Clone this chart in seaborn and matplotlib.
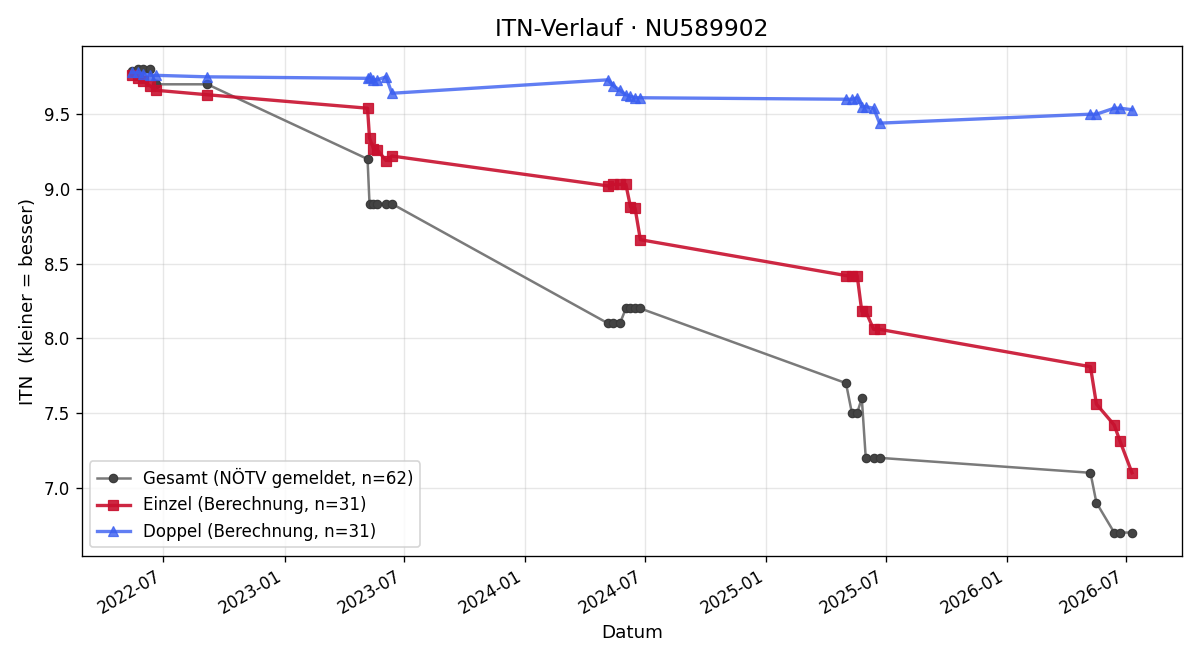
import pandas as pd
import matplotlib
matplotlib.use("Agg")
import matplotlib.pyplot as plt
import matplotlib.dates as mdates
import seaborn as sns

# Spieltermine (gleich für alle drei Reihen)
DATES = [
    "2022-05-14", "2022-05-23", "2022-06-01", "2022-06-11", "2022-06-20", "2022-09-06",
    "2023-05-07", "2023-05-10", "2023-05-16", "2023-05-22", "2023-06-04", "2023-06-13",
    "2024-05-06", "2024-05-14", "2024-05-24", "2024-06-02", "2024-06-09", "2024-06-16", "2024-06-24",
    "2025-05-02", "2025-05-11", "2025-05-19", "2025-05-26", "2025-06-01", "2025-06-13", "2025-06-22",
    "2026-05-08", "2026-05-17", "2026-06-13", "2026-06-22", "2026-07-10",
]

GESAMT = [9.79, 9.80, 9.80, 9.80, 9.70, 9.70,
          9.20, 8.90, 8.90, 8.90, 8.90, 8.90,
          8.10, 8.10, 8.10, 8.20, 8.20, 8.20, 8.20,
          7.70, 7.50, 7.50, 7.60, 7.20, 7.20, 7.20,
          7.10, 6.90, 6.70, 6.70, 6.70]

EINZEL = [9.76, 9.74, 9.72, 9.69, 9.66, 9.63,
          9.54, 9.34, 9.27, 9.26, 9.19, 9.22,
          9.02, 9.03, 9.03, 9.03, 8.88, 8.87, 8.66,
          8.42, 8.42, 8.42, 8.18, 8.18, 8.06, 8.06,
          7.81, 7.56, 7.42, 7.31, 7.10]

DOPPEL = [9.78, 9.78, 9.77, 9.76, 9.76, 9.75,
          9.74, 9.75, 9.73, 9.73, 9.75, 9.64,
          9.73, 9.69, 9.66, 9.63, 9.62, 9.61, 9.61,
          9.60, 9.60, 9.61, 9.55, 9.55, 9.54, 9.44,
          9.50, 9.50, 9.54, 9.54, 9.53]

df = pd.DataFrame({
    "date": pd.to_datetime(DATES),
    "gesamt": GESAMT,
    "einzel": EINZEL,
    "doppel": DOPPEL,
})

fig, ax = plt.subplots(figsize=(10, 5.5), dpi=120)

sns.lineplot(data=df, x="date", y="gesamt", ax=ax, color="#7a7a7a",
             marker="o", markersize=5, linewidth=1.5,
             markerfacecolor="#444444", markeredgecolor="#3a3a3a",
             label="Gesamt (NÖTV gemeldet, n=62)")
sns.lineplot(data=df, x="date", y="einzel", ax=ax, color="#c8102e", alpha=0.9,
             marker="s", markersize=6, linewidth=2, markeredgecolor="#c8102e",
             label="Einzel (Berechnung, n=31)")
sns.lineplot(data=df, x="date", y="doppel", ax=ax, color="#3a5ef0", alpha=0.8,
             marker="^", markersize=6, linewidth=2, markeredgecolor="#3a5ef0",
             label="Doppel (Berechnung, n=31)")

ax.set_title("ITN-Verlauf · NU589902", fontsize=14)
ax.set_xlabel("Datum", fontsize=11)
ax.set_ylabel("ITN  (kleiner = besser)", fontsize=11)
ax.grid(True, alpha=0.3)
ax.xaxis.set_major_locator(mdates.MonthLocator(bymonth=[1, 7]))
ax.xaxis.set_major_formatter(mdates.DateFormatter("%Y-%m"))
ax.legend(loc="lower left", fontsize=10)
fig.autofmt_xdate()

fig.subplots_adjust(left=0.068, right=0.985, top=0.930, bottom=0.158)
plt.savefig("out.png")
